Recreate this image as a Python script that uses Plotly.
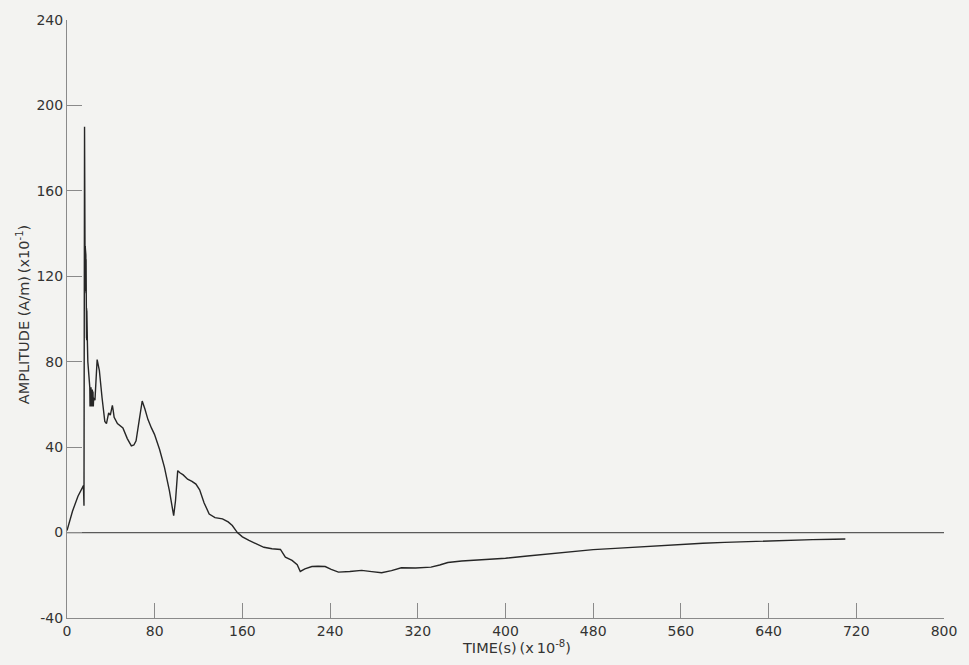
import plotly.graph_objects as go

# Transient field amplitude vs. time (units: A/m x10^-1, s x10^-8)
time = [0, 1, 5, 10, 15, 15.5, 16, 16.1, 16.2, 16.3, 16.4, 16.5, 16.6, 16.7,
        16.8, 16.9, 17.0, 17.1, 17.2, 17.3, 17.4, 17.5, 17.6, 17.7, 17.8,
        17.9, 18.0, 18.1, 18.2, 18.3, 18.4, 18.5, 18.6, 19.0, 20.0, 20.8,
        21.0, 21.3, 21.6, 21.9, 22.2, 22.5, 22.8, 23.1, 23.4, 23.7, 24.0,
        24.3, 25.5, 27.5, 29.5, 32, 34.5, 36, 38, 39.5, 40.5, 41.4, 42.2,
        43, 46, 51, 55, 58.7, 61, 63, 66, 68.6, 71, 73.8, 77, 79.8, 84.4,
        88.9, 93.4, 96.3, 97.3, 99, 101, 103, 106, 110, 114, 117.6, 121,
        125, 129.7, 135, 141.8, 147, 150.8, 155.4, 160, 166, 173, 179.6,
        187, 194.7, 199.2, 205.3, 210, 212.8, 217, 223.4, 229, 235.5, 241,
        247.6, 258, 268.8, 278, 287, 296, 305, 318, 332, 340, 347.4, 360,
        380, 400, 420, 440, 460, 480, 500, 520, 540, 560, 580, 600, 620,
        640, 660, 680, 700, 710]
amplitude = [1, 3, 10, 17, 22, 12.6, 190, 113, 136, 114, 135, 113, 134, 114,
             133, 113, 132, 113, 130, 112, 128, 107, 92, 106, 91, 105, 90,
             104, 90, 102, 90, 98, 89, 80, 72, 68, 59, 68, 59, 68, 59, 67,
             59, 67, 59, 66, 59, 63, 62, 81, 76, 63, 52, 51, 56, 55, 58,
             59.6, 57, 54, 51, 49, 44, 40.6, 41, 43, 53, 61.6, 58, 53, 49,
             46, 39, 30.5, 19.6, 10.3, 7.9, 15, 29, 28, 27, 25, 24, 22.7,
             20, 14, 8.7, 7, 6.4, 5, 3.3, 0, -2, -3.7, -5.5, -6.9, -7.6,
             -7.9, -11.5, -13, -15, -18.2, -17, -15.9, -15.8, -15.9, -17.2,
             -18.5, -18.2, -17.7, -18.3, -18.8, -17.8, -16.5, -16.6, -16.2,
             -15.2, -14, -13.3, -12.8, -12, -11, -10, -9, -8, -7.4, -6.8,
             -6.2, -5.4, -5, -4.6, -4.2, -3.8, -3.5, -3.3, -3.1, -3]

x_ticks = [0, 80, 160, 240, 320, 400, 480, 560, 640, 720, 800]
y_ticks = [-40, 0, 40, 80, 120, 160, 200, 240]
y_tick_text = [str(v) for v in y_ticks]

paper = "#f3f3f1"
ink = "#262626"
axis_col = "#8a8a8a"
text_col = "#333333"
font_family = "DejaVu Sans, Liberation Sans, sans-serif"

W, H = 969, 665
ML, MR, MT, MB = 67, 20, 18, 47

fig = go.Figure()

# baseline at zero amplitude across the full time span
fig.add_trace(go.Scatter(x=[x_ticks[0], x_ticks[-1]], y=[0, 0], mode="lines",
                         line=dict(color="#5a5a5a", width=1.2),
                         hoverinfo="skip", showlegend=False))

fig.add_trace(go.Scatter(x=time, y=amplitude, mode="lines",
                         line=dict(color=ink, width=1.4),
                         showlegend=False))


def px_to_paper(px, py):
    return (px - ML) / (W - ML - MR), 1 - (py - MT) / (H - MT - MB)


tx, ty = px_to_paper(519, 647)
ax_, ay_ = px_to_paper(23, 313)

fig.update_layout(
    width=W, height=H,
    margin=dict(l=ML, r=MR, t=MT, b=MB),
    paper_bgcolor=paper, plot_bgcolor=paper,
    font=dict(family=font_family, size=14, color=text_col),
    xaxis=dict(range=[0, 800], tickmode="array", tickvals=x_ticks,
               ticks="inside", ticklen=15, tickcolor=axis_col, tickwidth=1,
               showline=True, linecolor=axis_col, linewidth=1,
               showgrid=False, zeroline=False,
               tickfont=dict(size=14, color=text_col)),
    yaxis=dict(range=[-40, 240], tickmode="array", tickvals=y_ticks,
               ticktext=y_tick_text,
               ticks="inside", ticklen=15, tickcolor=axis_col, tickwidth=1,
               showline=True, linecolor=axis_col, linewidth=1,
               showgrid=False, zeroline=False,
               tickfont=dict(size=14, color=text_col)),
    annotations=[
        dict(text="TIME(s)\u2009(x\u200910<sup>-8</sup>)", x=tx, y=ty,
             xref="paper", yref="paper", showarrow=False,
             xanchor="center", yanchor="middle",
             font=dict(size=14.5, color=text_col)),
        dict(text="AMPLITUDE (A/m)\u2009(x10<sup>-1</sup>)", x=ax_, y=ay_,
             xref="paper", yref="paper", showarrow=False, textangle=-90,
             xanchor="center", yanchor="middle",
             font=dict(size=14.5, color=text_col)),
    ],
)

fig.write_html("out.html")
